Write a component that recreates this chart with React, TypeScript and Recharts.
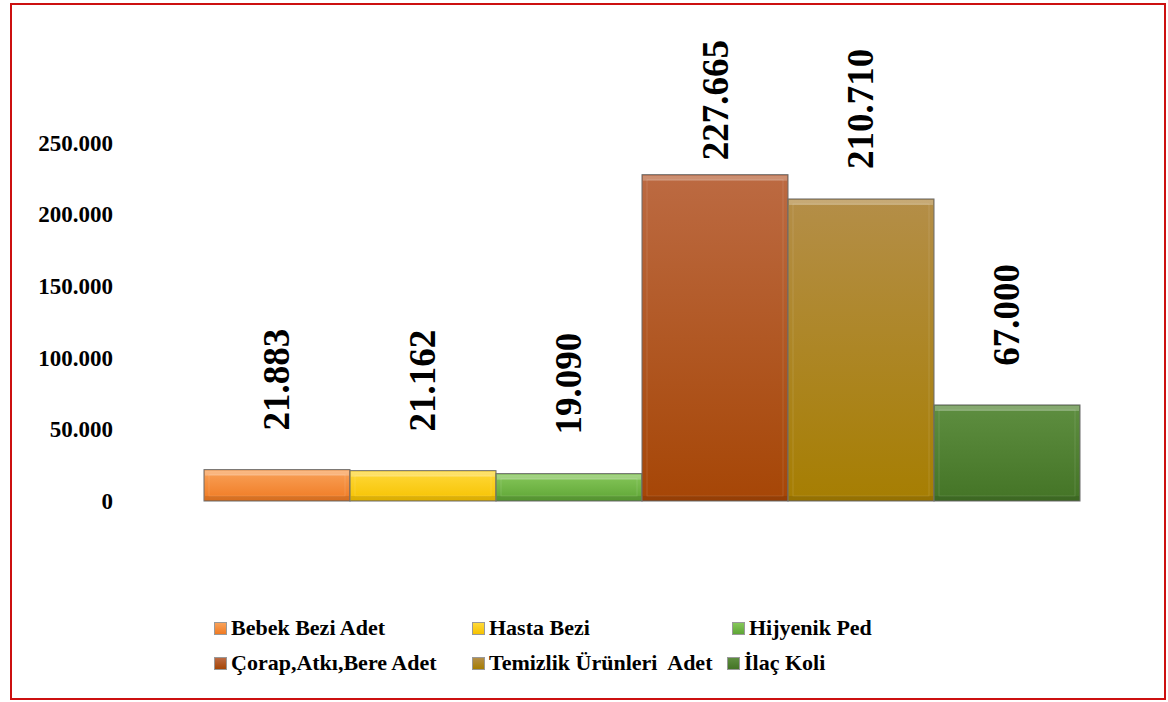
import { Bar, BarChart, LabelList, XAxis, YAxis } from 'recharts'

const SERIES_NAMES = [
  'Bebek Bezi Adet',
  'Hasta Bezi',
  'Hijyenik Ped',
  'Çorap,Atkı,Bere Adet',
  'Temizlik Ürünleri  Adet',
  'İlaç Koli',
]
const SERIES_VALUES = [21883, 21162, 19090, 227665, 210710, 67000]
const Y_TICKS = [0, 50000, 100000, 150000, 200000, 250000]

// top / bottom of the bar gradient, per series
const COLORS = [
  ['#F9A25A', '#F07A22'],
  ['#FFD93A', '#F6C200'],
  ['#86C75A', '#5EA535'],
  ['#BC6A42', '#A64606'],
  ['#B48E48', '#A67E02'],
  ['#5E8E40', '#447426'],
]

const FONT = '"Liberation Serif", "Times New Roman", serif'
const W = 1168
const H = 702

const keys = SERIES_NAMES.map((_, i) => `s${i}`)
const row: Record<string, number | string> = { name: 'all' }
keys.forEach((k, i) => {
  row[k] = SERIES_VALUES[i]
})
const data = [row]

const fmt = (v: number) => String(Math.round(v)).replace(/\B(?=(\d{3})+(?!\d))/g, '.')

function BevelBar(props: any) {
  const { x, y, width, height, idx } = props
  if (!height || height <= 0) return null
  const inset = Math.min(5, height / 3)
  return (
    <g>
      <rect x={x} y={y} width={width} height={height} fill={`url(#g${idx})`} stroke="#6a6a6a" strokeWidth={1} />
      <rect x={x + 1} y={y + 1} width={width - 2} height={inset} fill="#ffffff" opacity={0.25} />
      <rect
        x={x + inset}
        y={y + inset}
        width={Math.max(0, width - inset * 2)}
        height={Math.max(0, height - inset * 2)}
        fill="none"
        stroke="#ffffff"
        strokeOpacity={0.12}
      />
      <rect x={x + 1} y={y + height - inset} width={width - 2} height={inset} fill="#000000" opacity={0.1} />
    </g>
  )
}

// label centre sits ~90px above the bar top, but never above the chart's top band
function ValueLabel(props: any) {
  const { x, y, width, value } = props
  const cx = x + width / 2
  const cy = Math.max(y - 90, 100)
  return (
    <text
      x={cx}
      y={cy}
      transform={`rotate(-90 ${cx} ${cy})`}
      textAnchor="middle"
      dominantBaseline="central"
      fontFamily={FONT}
      fontWeight="bold"
      fontSize={37}
      fill="#000"
    >
      {fmt(value)}
    </text>
  )
}

function LegendItem({ i, left, top }: { i: number; left: number; top: number }) {
  return (
    <div style={{ position: 'absolute', left, top, display: 'flex', alignItems: 'center', whiteSpace: 'pre' }}>
      <span
        style={{
          display: 'inline-block',
          width: 11,
          height: 11,
          marginRight: 4,
          background: `linear-gradient(${COLORS[i][0]}, ${COLORS[i][1]})`,
          border: '1px solid #999',
        }}
      />
      <span style={{ fontFamily: FONT, fontWeight: 'bold', fontSize: 22, color: '#000', lineHeight: '24px' }}>
        {SERIES_NAMES[i]}
      </span>
    </div>
  )
}

export default function App() {
  return (
    <div style={{ position: 'absolute', left: 0, top: 0, width: W, height: H, background: '#fff' }}>
      <div
        style={{
          position: 'absolute',
          left: 10,
          top: 3,
          width: 1156,
          height: 697,
          border: '2px solid #CC1010',
          boxSizing: 'border-box',
        }}
      />
      <div style={{ position: 'absolute', left: 0, top: 0 }}>
        <BarChart
          width={W}
          height={H}
          data={data}
          margin={{ top: 71, right: 7, bottom: 201, left: 0 }}
          barGap={0}
          barCategoryGap={84}
        >
          <defs>
            {COLORS.map((c, i) => (
              <linearGradient key={i} id={`g${i}`} x1="0" y1="0" x2="0" y2="1">
                <stop offset="0%" stopColor={c[0]} />
                <stop offset="100%" stopColor={c[1]} />
              </linearGradient>
            ))}
          </defs>
          <XAxis dataKey="name" hide />
          <YAxis
            width={120}
            domain={[0, 300000]}
            ticks={Y_TICKS}
            tickFormatter={fmt}
            axisLine={false}
            tickLine={false}
            tickSize={0}
            tickMargin={7}
            tick={{ fontFamily: FONT, fontWeight: 'bold', fontSize: 23, fill: '#000' }}
          />
          {keys.map((k, i) => (
            <Bar key={k} dataKey={k} isAnimationActive={false} shape={(p: any) => <BevelBar {...p} idx={i} />}>
              <LabelList dataKey={k} content={ValueLabel} />
            </Bar>
          ))}
        </BarChart>
      </div>
      <LegendItem i={0} left={214} top={616} />
      <LegendItem i={1} left={472} top={616} />
      <LegendItem i={2} left={732} top={616} />
      <LegendItem i={3} left={214} top={651} />
      <LegendItem i={4} left={472} top={651} />
      <LegendItem i={5} left={727} top={651} />
    </div>
  )
}
